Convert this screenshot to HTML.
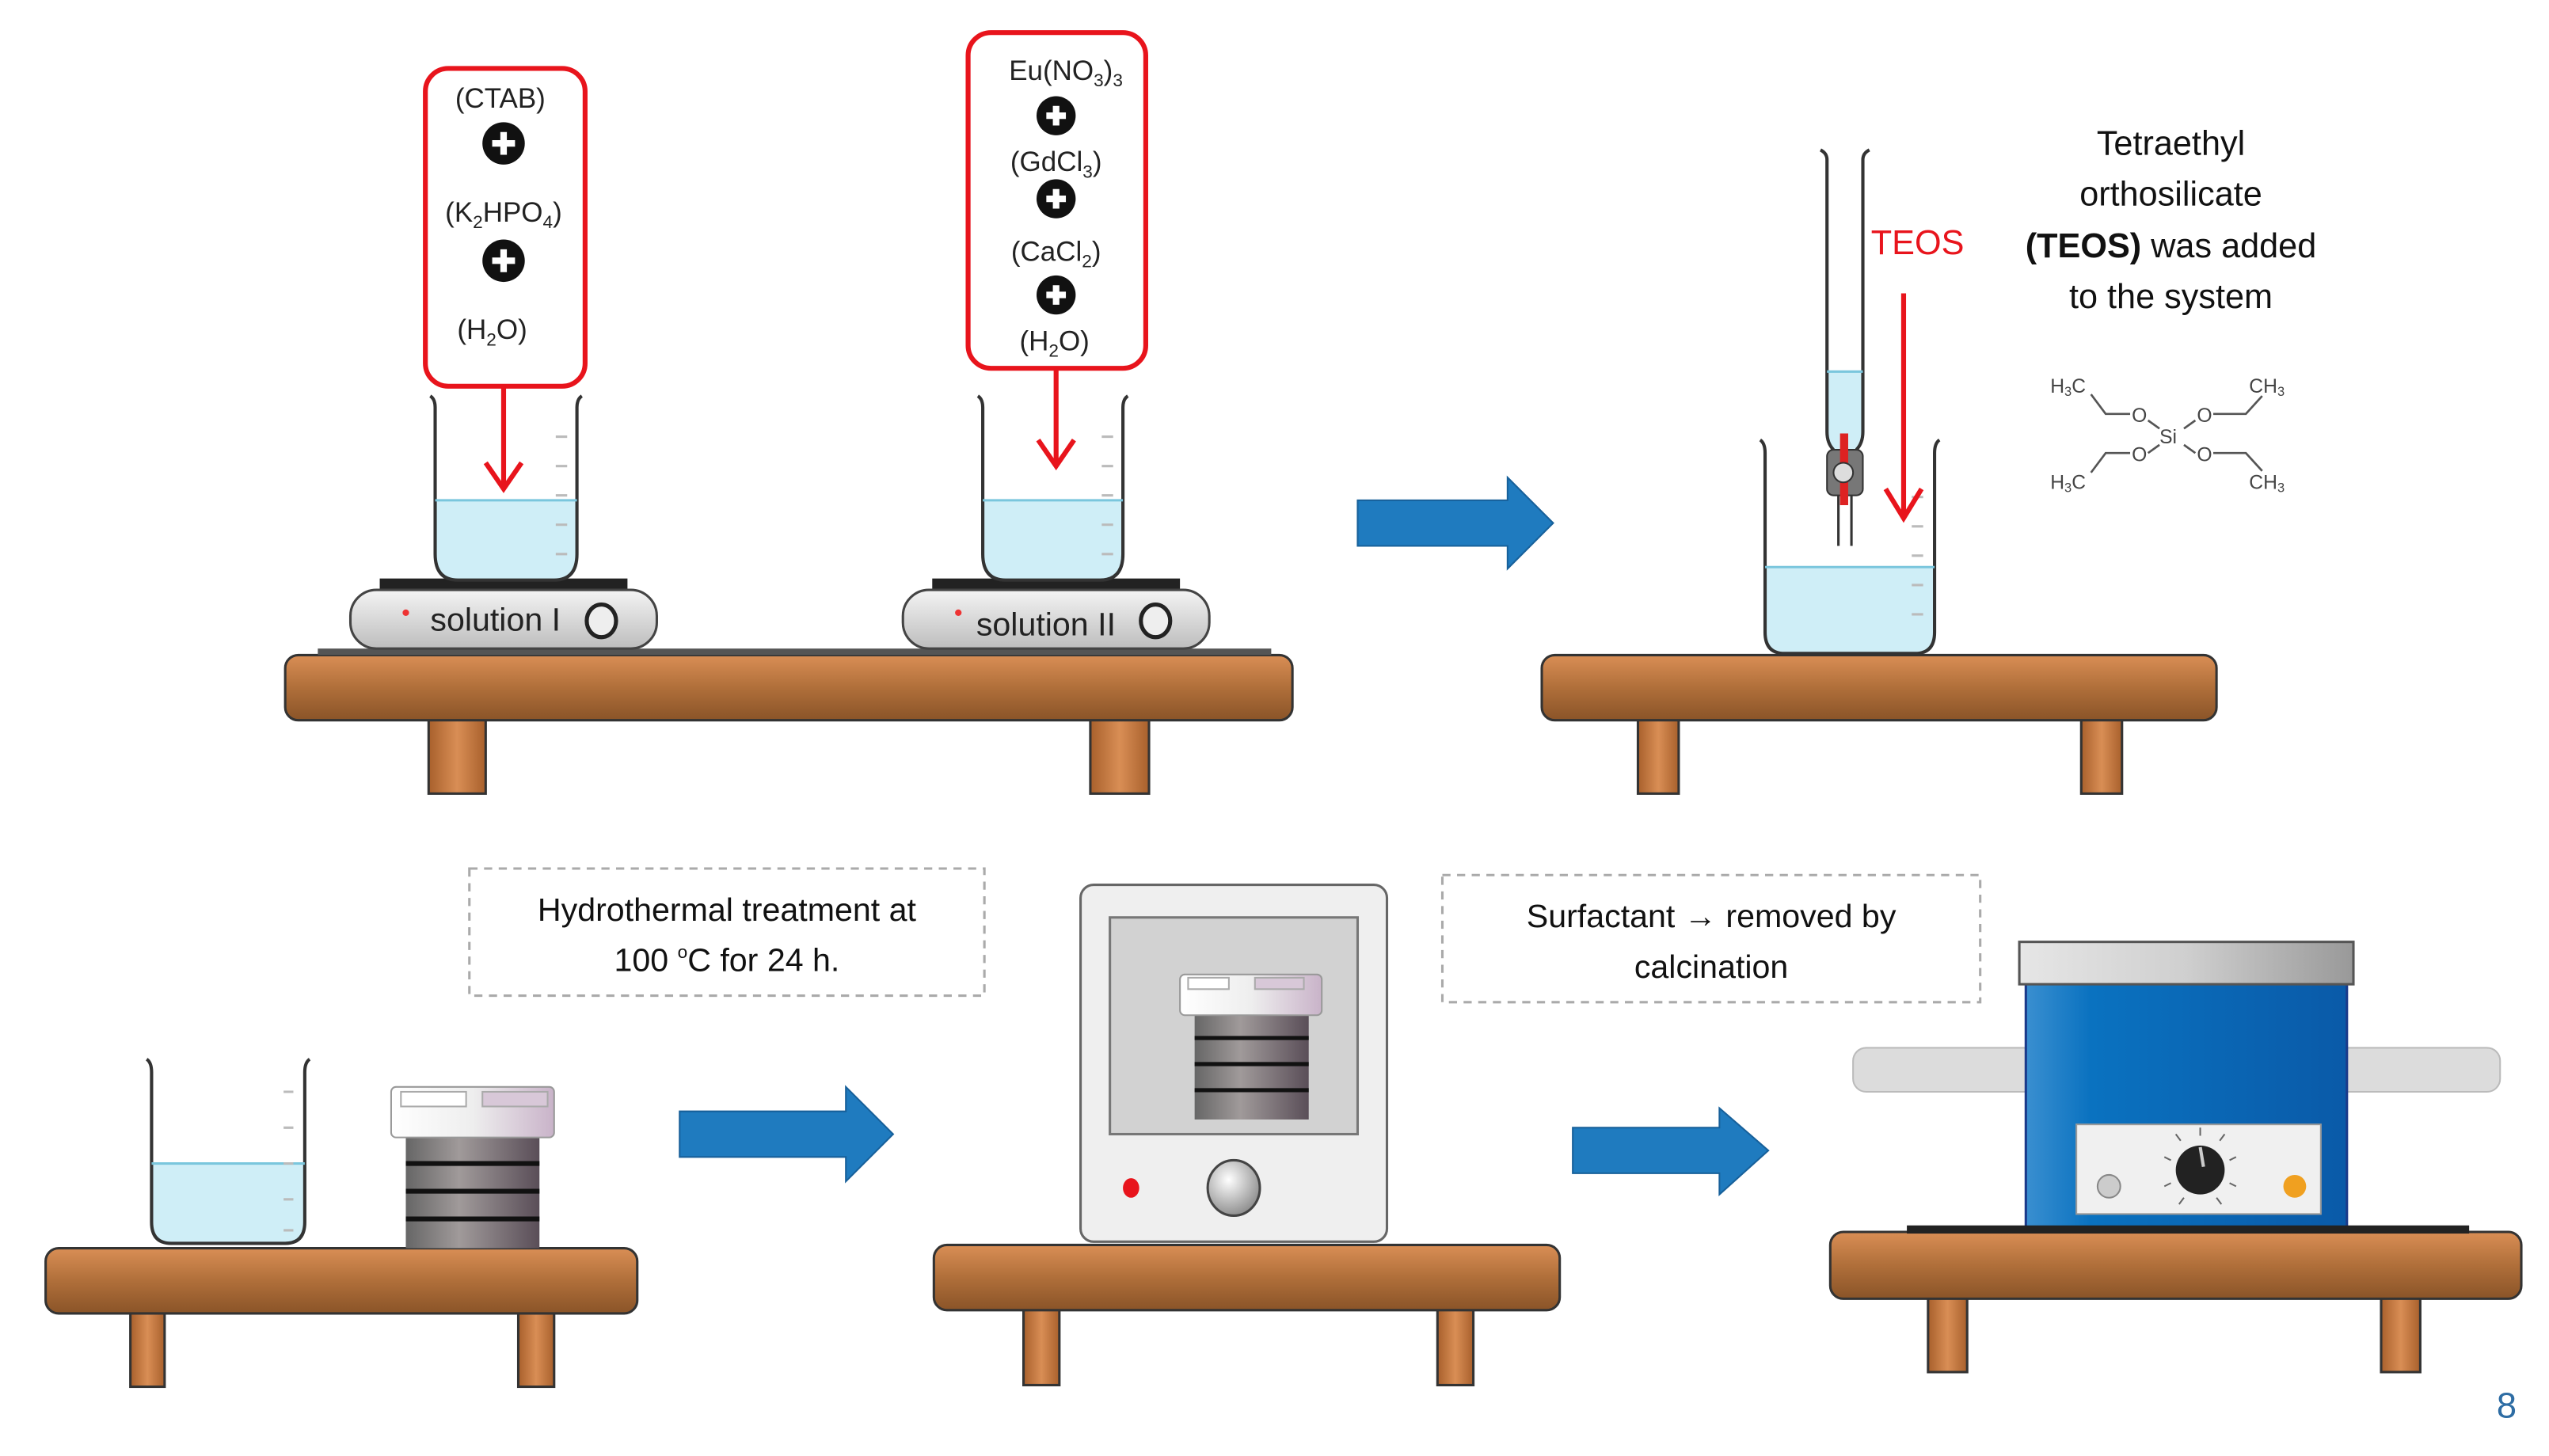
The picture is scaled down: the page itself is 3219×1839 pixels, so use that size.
<!DOCTYPE html>
<html><head><meta charset="utf-8"><style>
html,body{margin:0;padding:0;background:#fff;width:3219px;height:1839px;overflow:hidden}
svg{display:block}
text{font-family:"Liberation Sans",sans-serif}
</style></head><body>
<svg width="3219" height="1839" viewBox="0 0 1564 893.5" xmlns="http://www.w3.org/2000/svg">
<defs>
<linearGradient id="wood" x1="0" y1="0" x2="0" y2="1"><stop offset="0" stop-color="#d98e55"/><stop offset="0.5" stop-color="#b06f3a"/><stop offset="1" stop-color="#8a5428"/></linearGradient>
<linearGradient id="leg" x1="0" y1="0" x2="1" y2="0"><stop offset="0" stop-color="#a8602c"/><stop offset="0.5" stop-color="#d98e55"/><stop offset="1" stop-color="#a8602c"/></linearGradient>
<linearGradient id="plate" x1="0" y1="0" x2="0" y2="1"><stop offset="0" stop-color="#f4f4f4"/><stop offset="1" stop-color="#bdbdbd"/></linearGradient>
<linearGradient id="cap" x1="0" y1="0" x2="1" y2="0"><stop offset="0" stop-color="#fff"/><stop offset="0.5" stop-color="#eee"/><stop offset="1" stop-color="#c9b3c9"/></linearGradient>
<linearGradient id="body" x1="0" y1="0" x2="1" y2="0"><stop offset="0" stop-color="#666"/><stop offset="0.4" stop-color="#a09a9a"/><stop offset="1" stop-color="#5a4e58"/></linearGradient>
<linearGradient id="blue" x1="0" y1="0" x2="1" y2="0"><stop offset="0" stop-color="#3a8fd0"/><stop offset="0.2" stop-color="#0a72c0"/><stop offset="1" stop-color="#0a5aa8"/></linearGradient>
<linearGradient id="lid" x1="0" y1="0" x2="1" y2="0"><stop offset="0" stop-color="#e6e6e6"/><stop offset="0.5" stop-color="#cfcfcf"/><stop offset="1" stop-color="#999"/></linearGradient>
<radialGradient id="knob" cx="0.4" cy="0.35" r="0.7"><stop offset="0" stop-color="#fff"/><stop offset="1" stop-color="#888"/></radialGradient>
</defs>

<g stroke="#333" stroke-width="1.5">
<rect x="263" y="440" width="35" height="47" fill="url(#leg)"/><rect x="669" y="440" width="36" height="47" fill="url(#leg)"/>
<rect x="175" y="402" width="618" height="40" rx="8" fill="url(#wood)"/>
<rect x="1005" y="440" width="25" height="47" fill="url(#leg)"/><rect x="1277" y="440" width="25" height="47" fill="url(#leg)"/>
<rect x="946" y="402" width="414" height="40" rx="8" fill="url(#wood)"/>
<rect x="80" y="804" width="21" height="47" fill="url(#leg)"/><rect x="318" y="804" width="22" height="47" fill="url(#leg)"/>
<rect x="28" y="766" width="363" height="40" rx="8" fill="url(#wood)"/>
<rect x="628" y="802" width="22" height="48" fill="url(#leg)"/><rect x="882" y="802" width="22" height="48" fill="url(#leg)"/>
<rect x="573" y="764" width="384" height="40" rx="8" fill="url(#wood)"/>
<rect x="1183" y="795" width="24" height="47" fill="url(#leg)"/><rect x="1461" y="795" width="24" height="47" fill="url(#leg)"/>
<rect x="1123" y="756" width="424" height="41" rx="8" fill="url(#wood)"/>
</g>
<rect x="195" y="398" width="585" height="4" fill="#555"/>

<g>
<rect x="233" y="355" width="152" height="8" fill="#222"/>
<rect x="215" y="362" width="188" height="36" rx="16" fill="url(#plate)" stroke="#444" stroke-width="1.5"/>
<circle cx="249" cy="376" r="2" fill="#e33"/>
<text x="264" y="387" font-size="20" fill="#222">solution I</text>
<ellipse cx="369" cy="381" rx="9" ry="10" fill="#eee" stroke="#222" stroke-width="2.5"/>
<rect x="572" y="355" width="152" height="8" fill="#222"/>
<rect x="554" y="362" width="188" height="36" rx="16" fill="url(#plate)" stroke="#444" stroke-width="1.5"/>
<circle cx="588" cy="376" r="2" fill="#e33"/>
<text x="599" y="390" font-size="20" fill="#222">solution II</text>
<ellipse cx="709" cy="381" rx="9" ry="10" fill="#eee" stroke="#222" stroke-width="2.5"/>
</g>

<g stroke="#333" stroke-width="2" fill="none">
<path d="M267,307 H354 V340 Q354,356 340,356 H281 Q267,356 267,340Z" fill="#cfeef7" stroke="none"/>
<path d="M264,243 Q267,245 267,250 V340 Q267,356 281,356 H340 Q354,356 354,340 V250 Q354,245 357,243"/>
<path d="M603,307 H689 V340 Q689,356 675,356 H617 Q603,356 603,340Z" fill="#cfeef7" stroke="none"/>
<path d="M600,243 Q603,245 603,250 V340 Q603,356 617,356 H675 Q689,356 689,340 V250 Q689,245 692,243"/>
<path d="M1083,348 H1187 V388 Q1187,401 1175,401 H1095 Q1083,401 1083,388Z" fill="#cfeef7" stroke="none"/>
<path d="M1080,270 Q1083,272 1083,278 V388 Q1083,401 1095,401 H1175 Q1187,401 1187,388 V278 Q1187,272 1190,270"/>
<path d="M93,714 H187 V750 Q187,763 175,763 H105 Q93,763 93,750Z" fill="#cfeef7" stroke="none"/>
<path d="M90,650 Q93,652 93,658 V750 Q93,763 105,763 H175 Q187,763 187,750 V658 Q187,652 190,650"/>
</g>
<g stroke="#7ac6dd" stroke-width="1.5"><path d="M267,307H354M603,307H689M1083,348H1187M93,714H187"/></g>
<g stroke="#bbb" stroke-width="1.5">
<path d="M341,268h7M341,286h7M341,304h7M341,322h7M341,340h7"/>
<path d="M676,268h7M676,286h7M676,304h7M676,322h7M676,340h7"/>
<path d="M1173,305h7M1173,323h7M1173,341h7M1173,359h7M1173,377h7"/>
<path d="M174,670h6M174,692h6M174,714h6M174,736h6M174,755h6"/>
</g>

<rect x="261" y="42" width="98" height="195" rx="14" fill="#fff" stroke="#e8141c" stroke-width="3"/>
<rect x="594" y="20" width="109" height="206" rx="14" fill="#fff" stroke="#e8141c" stroke-width="3"/>
<g font-size="17" fill="#222" text-anchor="middle">
<text x="307" y="66">(CTAB)</text>
<text x="309" y="136">(K<tspan font-size="11" dy="4">2</tspan><tspan dy="-4">HPO</tspan><tspan font-size="11" dy="4">4</tspan><tspan dy="-4">)</tspan></text>
<text x="302" y="208">(H<tspan font-size="11" dy="4">2</tspan><tspan dy="-4">O)</tspan></text>
<text x="654" y="49">Eu(NO<tspan font-size="11" dy="4">3</tspan><tspan dy="-4">)</tspan><tspan font-size="11" dy="4">3</tspan></text>
<text x="648" y="105">(GdCl<tspan font-size="11" dy="4">3</tspan><tspan dy="-4">)</tspan></text>
<text x="648" y="160">(CaCl<tspan font-size="11" dy="4">2</tspan><tspan dy="-4">)</tspan></text>
<text x="647" y="215">(H<tspan font-size="11" dy="4">2</tspan><tspan dy="-4">O)</tspan></text>
</g>
<g>
<g transform="translate(309,88)"><circle r="13" fill="#111"/><path d="M-7,0H7M0,-7V7" stroke="#fff" stroke-width="4"/></g>
<g transform="translate(309,160)"><circle r="13" fill="#111"/><path d="M-7,0H7M0,-7V7" stroke="#fff" stroke-width="4"/></g>
<g transform="translate(648,71)"><circle r="12" fill="#111"/><path d="M-6,0H6M0,-6V6" stroke="#fff" stroke-width="4"/></g>
<g transform="translate(648,122)"><circle r="12" fill="#111"/><path d="M-6,0H6M0,-6V6" stroke="#fff" stroke-width="4"/></g>
<g transform="translate(648,181)"><circle r="12" fill="#111"/><path d="M-6,0H6M0,-6V6" stroke="#fff" stroke-width="4"/></g>
</g>
<g stroke="#e8141c" stroke-width="3" fill="none">
<path d="M309,237V298M298,284L309,300L320,284"/>
<path d="M648,226V284M637,270L648,286L659,270"/>
<path d="M1168,180V316M1157,300L1168,318L1179,300"/>
</g>

<path d="M1121,228 H1143 V265 Q1143,272 1139,276 H1125 Q1121,272 1121,265Z" fill="#cfeef7"/>
<g stroke="#333" stroke-width="2" fill="none">
<path d="M1117,92 Q1121,94 1121,98 V265 Q1121,272 1125,276 M1147,92 Q1143,94 1143,98 V265 Q1143,272 1139,276"/>
<path d="M1128,300V335M1136,300V335" stroke-width="1.5"/>
</g>
<path d="M1121,228H1143" stroke="#7ac6dd" stroke-width="1.5"/>
<rect x="1121" y="276" width="22" height="28" rx="4" fill="#777" stroke="#333" stroke-width="1"/>
<rect x="1129" y="266" width="5" height="44" fill="#d22"/>
<circle cx="1131" cy="290" r="6" fill="#ddd" stroke="#333"/>
<text x="1148" y="156" font-size="21" fill="#e8141c">TEOS</text>
<g font-size="21" fill="#111" text-anchor="middle">
<text x="1332" y="95">Tetraethyl</text>
<text x="1332" y="126">orthosilicate</text>
<text x="1332" y="158"><tspan font-weight="bold">(TEOS)</tspan> was added</text>
<text x="1332" y="189">to the system</text>
</g>
<g font-size="12" fill="#444">
<text x="1258" y="241">H<tspan font-size="8" dy="2">3</tspan><tspan dy="-2">C</tspan></text>
<text x="1380" y="241">CH<tspan font-size="8" dy="2">3</tspan></text>
<text x="1258" y="300">H<tspan font-size="8" dy="2">3</tspan><tspan dy="-2">C</tspan></text>
<text x="1380" y="300">CH<tspan font-size="8" dy="2">3</tspan></text>
<text x="1308" y="259">O</text><text x="1348" y="259">O</text>
<text x="1308" y="283">O</text><text x="1348" y="283">O</text>
<text x="1325" y="272" font-size="12">Si</text>
</g>
<g stroke="#555" stroke-width="1.3" fill="none">
<path d="M1283,242L1292,254H1307M1388,243L1378,254H1358M1283,290L1292,278H1307M1388,289L1378,278H1358"/>
<path d="M1318,258L1325,263M1347,258L1340,263M1318,278L1325,273M1347,278L1340,273"/>
</g>

<g fill="#1f7bbf" stroke="#17609a" stroke-width="1">
<path d="M833,307H925V293L953,321L925,349V335H833Z"/>
<path d="M417,682H519V667L548,696L519,725V710H417Z"/>
<path d="M965,692H1055V680L1085,706L1055,733V720H965Z"/>
</g>

<g fill="none" stroke="#aaa" stroke-width="1.5" stroke-dasharray="5,4">
<rect x="288" y="533" width="316" height="78"/>
<rect x="885" y="537" width="330" height="78"/>
</g>
<g font-size="20" fill="#111" text-anchor="middle">
<text x="446" y="565">Hydrothermal treatment at</text>
<text x="446" y="596">100 <tspan font-size="11" dy="-8">o</tspan><tspan dy="8">C for 24 h.</tspan></text>
<text x="1050" y="569">Surfactant → removed by</text>
<text x="1050" y="600">calcination</text>
</g>

<g>
<rect x="249" y="697" width="82" height="69" fill="url(#body)"/>
<path d="M249,714H331M249,731H331M249,748H331" stroke="#111" stroke-width="3"/>
<rect x="240" y="667" width="100" height="31" rx="3" fill="url(#cap)" stroke="#999"/>
<rect x="246" y="670" width="40" height="9" fill="#fff" stroke="#aaa"/><rect x="296" y="670" width="40" height="9" fill="#d8c8d8" stroke="#aaa"/>
</g>

<rect x="663" y="543" width="188" height="219" rx="8" fill="#efefef" stroke="#666" stroke-width="1.5"/>
<rect x="681" y="563" width="152" height="133" fill="#d2d2d2" stroke="#777" stroke-width="1.5"/>
<rect x="733" y="621" width="70" height="66" fill="url(#body)"/>
<path d="M733,637H803M733,653H803M733,669H803" stroke="#111" stroke-width="2.5"/>
<rect x="724" y="598" width="87" height="25" rx="3" fill="url(#cap)" stroke="#999"/>
<rect x="729" y="600" width="25" height="7" fill="#fff" stroke="#aaa"/><rect x="770" y="600" width="30" height="7" fill="#d8c8d8" stroke="#aaa"/>
<ellipse cx="694" cy="729" rx="5" ry="6" fill="#e8141c"/>
<ellipse cx="757" cy="729" rx="16" ry="17" fill="url(#knob)" stroke="#444" stroke-width="1.5"/>

<rect x="1137" y="643" width="397" height="27" rx="8" fill="#dcdcdc" stroke="#bbb"/>
<rect x="1243" y="603" width="197" height="150" fill="url(#blue)" stroke="#1a3a8a" stroke-width="1.5"/>
<rect x="1239" y="578" width="205" height="26" fill="url(#lid)" stroke="#555" stroke-width="1.5"/>
<rect x="1274" y="690" width="150" height="55" fill="#f0f0f0" stroke="#999"/>
<circle cx="1294" cy="728" r="7" fill="#ccc" stroke="#888"/>
<circle cx="1408" cy="728" r="7" fill="#f0a020"/>
<circle cx="1350" cy="718" r="15" fill="#222"/>
<path d="M1350,704L1352,716" stroke="#ccc" stroke-width="2"/>
<g stroke="#666" stroke-width="1"><path d="M1350,697v-5M1362,700l3,-4M1338,700l-3,-4M1368,712l4,-2M1332,712l-4,-2M1368,726l4,2M1332,726l-4,2M1340,735l-3,4M1360,735l3,4"/></g>
<rect x="1170" y="752" width="345" height="5" fill="#222"/>

<text x="1538" y="870" font-size="22" fill="#2e6da4" text-anchor="middle">8</text>
</svg>
</body></html>
